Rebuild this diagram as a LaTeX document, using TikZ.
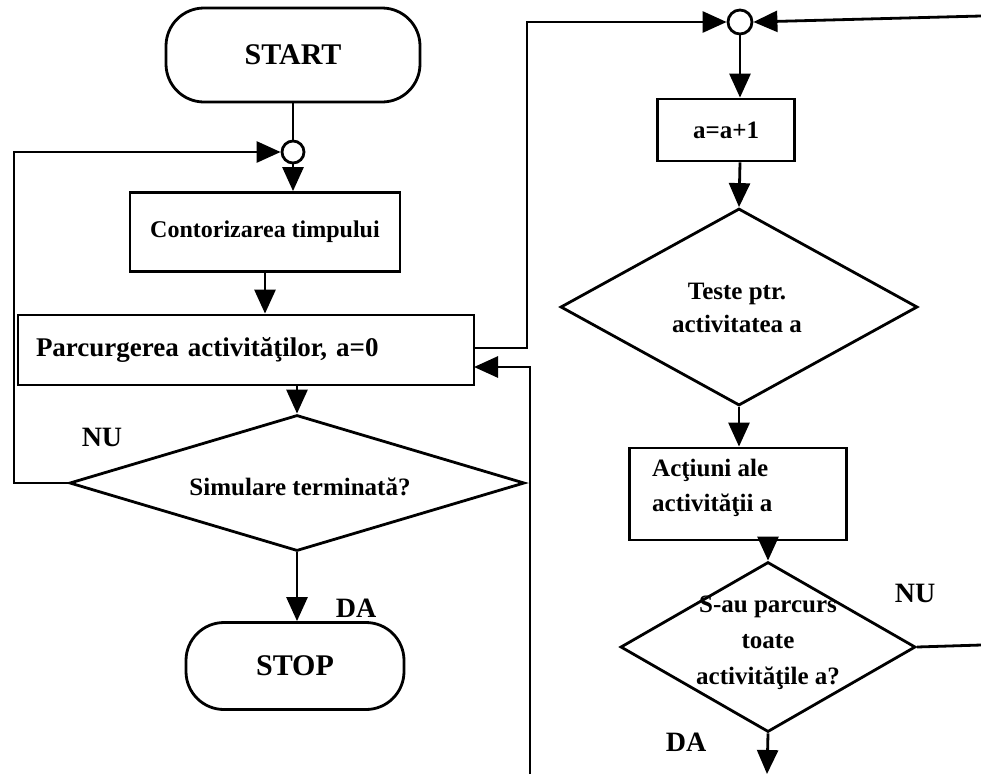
\documentclass[tikz,border=0pt]{standalone}
\usepackage{fontspec}
\setmainfont{Liberation Serif}
\usetikzlibrary{shapes.geometric,arrows.meta}
\begin{document}
\begin{tikzpicture}[x=1pt,y=-1pt,
  every node/.style={font=\fontsize{25}{33}\selectfont\bfseries},
  big/.style={font=\fontsize{30}{36}\selectfont\bfseries},
  tag/.style={inner sep=0pt,font=\fontsize{28}{33}\selectfont\bfseries},
  line/.style={line width=2.8pt},
  arr/.style={line width=2.8pt,-{Triangle[length=24pt,width=21pt]}},
  term/.style={draw,line width=2.8pt,rectangle,rounded corners=38pt,inner sep=0pt,big},
  proc/.style={draw,line width=2.8pt,rectangle,inner sep=0pt},
  dec/.style={draw,line width=2.8pt,diamond,inner sep=0pt},
  junc/.style={draw,line width=2.8pt,circle,fill=white,inner sep=0pt,minimum size=22pt},
  lbl/.style={inner sep=0pt}]
\useasboundingbox (0,0) rectangle (981,774);

% left column
\node[term,minimum width=254pt,minimum height=94pt] (start) at (293,55) {START};
\node[junc] (j1) at (293,152) {};
\node[proc,minimum width=270pt,minimum height=79pt,font=\fontsize{24}{30}\selectfont\bfseries] (cont) at (265,232) {Contorizarea timpului};
\node[proc,minimum width=456pt,minimum height=70pt,text width=420pt,align=left,font=\fontsize{27}{32}\selectfont\bfseries] (parc) at (246,350) {Parcurgerea activităţilor, a=0};
\node[dec,minimum width=455pt,minimum height=136pt] (sim) at (297,483) {};
\node[lbl] (simt) at (300,487) {Simulare terminată?};
\node[term,minimum width=218pt,minimum height=87pt] (stop) at (295,666) {STOP};
\node[tag] (nu1) at (102,437) {NU};
\node[tag] (da1) at (356,608) {DA};

% right column
\node[junc,minimum size=24pt] (j2) at (740,22) {};
\node[proc,minimum width=137pt,minimum height=62pt] (inc) at (726,130) {a=a+1};
\node[dec,minimum width=357pt,minimum height=197pt] (teste) at (739,307) {};
\node[lbl,align=center] (testet) at (737,308) {Teste ptr.\\activitatea a};
\node[proc,minimum width=217pt,minimum height=92pt] (act) at (738,494) {};
\node[lbl,align=left,anchor=west,font=\fontsize{25}{35}\selectfont\bfseries] (actt) at (652,488) {Acţiuni ale\\activităţii a};
\node[dec,minimum width=295pt,minimum height=170pt] (sp) at (768,647) {};
\node[lbl,align=center,font=\fontsize{25}{36}\selectfont\bfseries] (spt) at (768,643) {S-au parcurs\\toate\\activităţile a?};
\node[tag] (nu2) at (915,593) {NU};
\node[tag] (da2) at (686,742) {DA};

% loose ends and bends
\coordinate (lx) at (14,0);
\coordinate (mx) at (527,0);
\coordinate (rx) at (530,0);
\coordinate (edgeR) at (981,16);
\coordinate (edgeNU) at (981,645);
\coordinate (bot1) at (530,774);
\coordinate (bot2) at (767,774);
\coordinate (ret) at (474,367);

% left column connectors
\draw[line] (start.south) -- (j1.north);
\draw[arr] (j1.south) -- (cont.north -| j1);
\draw[arr] (cont.south) -- (parc.north -| cont.south);
\draw[arr] (parc.south -| sim.north) -- (sim.north);
\draw[arr] (sim.south) -- (stop.north -| sim.south);
\draw[arr] (sim.west) -- (sim.west -| lx) |- (j1.west);

% loop between the two columns
\draw[arr] (parc.east |- 0,348) -- (mx |- 0,348) |- (j2.west);
\draw[arr] (bot1) -- (rx |- ret) -- (ret);

% right column connectors
\draw[arr] (edgeR) -- (j2.east);
\draw[arr] (j2.south) -- (inc.north -| j2);
\draw[arr] (inc.south -| j2) -- (teste.north);
\draw[arr] (teste.south) -- (act.north -| teste.south);
\draw[arr] (act.south -| sp.north) -- (sp.north);
\draw[line] (sp.east) -- (edgeNU);
\draw[arr] (sp.south) -- (bot2);
\end{tikzpicture}
\end{document}
